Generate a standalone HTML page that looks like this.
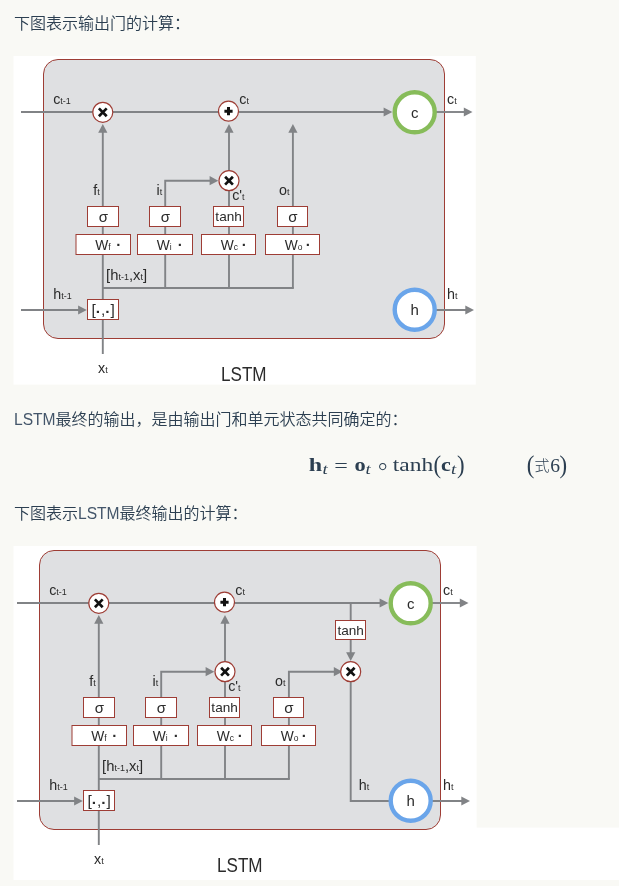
<!DOCTYPE html>
<html lang="zh-CN">
<head>
<meta charset="utf-8">
<title>LSTM</title>
<style>
html,body{margin:0;padding:0;}
body{width:619px;height:886px;overflow:hidden;background:#f9f9f5;position:relative;
  font-family:"Liberation Sans","Noto Sans CJK SC",sans-serif;color:#2c3f51;}
p{will-change:transform;position:absolute;left:13.8px;margin:0;font-size:16px;line-height:24px;white-space:nowrap;font-weight:350;}
p span{font-size:15.6px;color:#44566a;}
#p1{top:12px;}
#p2{top:408px;}
#p3{top:502px;}
svg{position:absolute;left:0;top:0;will-change:transform;}
svg text{font-family:"Liberation Sans",sans-serif;}
svg text.m{font-family:"Liberation Serif",serif;}
svg text.dj{font-family:"DejaVu Sans","Liberation Sans",sans-serif;}
svg text.cj{font-family:"Liberation Sans","Noto Sans CJK SC",sans-serif;font-weight:300;}

</style>
</head>
<body>
<svg width="619" height="886" viewBox="0 0 619 886">
<g id="d1">
<rect x="13.5" y="56" width="462.3" height="328.6" fill="#fff"/>
<rect x="43.5" y="59.5" width="401" height="279" rx="14.5" ry="14.5" fill="#dfe0e2" stroke="#9e3d35" stroke-width="1"/>
<line x1="21" y1="112" x2="386" y2="112" stroke="#818386" stroke-width="1.9"/>
<polygon points="392.3,112 383.6,107.4 383.6,116.6" fill="#818386"/>
<line x1="434" y1="112" x2="466" y2="112" stroke="#818386" stroke-width="1.9"/>
<polygon points="472.5,112 463.8,107.4 463.8,116.6" fill="#818386"/>
<line x1="434" y1="310" x2="467" y2="310" stroke="#818386" stroke-width="1.9"/>
<polygon points="474,310 465.3,305.4 465.3,314.6" fill="#818386"/>
<line x1="21" y1="310" x2="80" y2="310" stroke="#818386" stroke-width="1.9"/>
<polygon points="86.8,310 78.1,305.4 78.1,314.6" fill="#818386"/>
<line x1="102.8" y1="354" x2="102.8" y2="131" stroke="#818386" stroke-width="1.9"/>
<polygon points="102.8,124 98.2,132.7 107.4,132.7" fill="#818386"/>
<line x1="102.8" y1="288" x2="293.85" y2="288" stroke="#818386" stroke-width="1.9"/>
<polyline points="165.2,288 165.2,180.7 211,180.7" fill="none" stroke="#818386" stroke-width="1.9"/>
<polygon points="218.3,180.7 209.6,176.1 209.6,185.3" fill="#818386"/>
<line x1="229" y1="288" x2="229" y2="131" stroke="#818386" stroke-width="1.9"/>
<polygon points="229,124 224.4,132.7 233.6,132.7" fill="#818386"/>
<line x1="292.9" y1="288" x2="292.9" y2="131" stroke="#818386" stroke-width="1.9"/>
<polygon points="292.9,124 288.3,132.7 297.5,132.7" fill="#818386"/>
<rect x="87.5" y="206.5" width="31.0" height="20.0" fill="#fff" stroke="#9e3d35" stroke-width="1"/>
<text x="103.5" y="222.1" font-size="15" text-anchor="middle" fill="#2b2b2b" >σ</text>
<rect x="149.5" y="206.5" width="31.0" height="20.0" fill="#fff" stroke="#9e3d35" stroke-width="1"/>
<text x="165.5" y="222.1" font-size="15" text-anchor="middle" fill="#2b2b2b" >σ</text>
<rect x="213.5" y="206.5" width="30.0" height="20.0" fill="#fff" stroke="#9e3d35" stroke-width="1"/>
<text x="228.6" y="221.3" font-size="13.6" text-anchor="middle" fill="#2b2b2b" >tanh</text>
<rect x="277.5" y="206.5" width="30.0" height="20.0" fill="#fff" stroke="#9e3d35" stroke-width="1"/>
<text x="293.0" y="222.1" font-size="15" text-anchor="middle" fill="#2b2b2b" >σ</text>
<rect x="76" y="234.5" width="54.5" height="20.0" fill="#fff" stroke="#9e3d35" stroke-width="1"/>
<text x="95.2" y="249.8" font-size="13.8" text-anchor="start" fill="#2b2b2b" >W<tspan font-size="8.5">f</tspan></text>
<text x="118.7" y="250.1" font-size="15" text-anchor="middle" fill="#2b2b2b" font-weight="bold">·</text>
<rect x="137.5" y="234.5" width="55.0" height="20.0" fill="#fff" stroke="#9e3d35" stroke-width="1"/>
<text x="156.7" y="249.8" font-size="13.8" text-anchor="start" fill="#2b2b2b" >W<tspan font-size="8.5">i</tspan></text>
<text x="180.2" y="250.1" font-size="15" text-anchor="middle" fill="#2b2b2b" font-weight="bold">·</text>
<rect x="201.5" y="234.5" width="54.0" height="20.0" fill="#fff" stroke="#9e3d35" stroke-width="1"/>
<text x="220.7" y="249.8" font-size="13.8" text-anchor="start" fill="#2b2b2b" >W<tspan font-size="8.5">c</tspan></text>
<text x="244.2" y="250.1" font-size="15" text-anchor="middle" fill="#2b2b2b" font-weight="bold">·</text>
<rect x="265.5" y="234.5" width="54.0" height="20.0" fill="#fff" stroke="#9e3d35" stroke-width="1"/>
<text x="284.7" y="249.8" font-size="13.8" text-anchor="start" fill="#2b2b2b" >W<tspan font-size="8.5">o</tspan></text>
<text x="308.2" y="250.1" font-size="15" text-anchor="middle" fill="#2b2b2b" font-weight="bold">·</text>
<rect x="87.5" y="299.5" width="31.0" height="20.0" fill="#fff" stroke="#9e3d35" stroke-width="1"/>
<text x="103.1" y="314.8" font-size="15.5" text-anchor="middle" fill="#2b2b2b" >[<tspan font-weight="bold" dy="2.1">·</tspan><tspan dy="-2.1">,</tspan><tspan font-weight="bold" dy="2.1">·</tspan><tspan dy="-2.1">]</tspan></text>
<circle cx="102.8" cy="112.3" r="10" fill="#fff" stroke="#9e3d35" stroke-width="1.2"/><path d="M98.9,108.4 L106.7,116.2 M106.7,108.4 L98.9,116.2" stroke="#111" stroke-width="2.7" fill="none"/>
<circle cx="228.5" cy="111.2" r="10" fill="#fff" stroke="#9e3d35" stroke-width="1.2"/><path d="M224.4,111.2 L232.6,111.2 M228.5,107.1 L228.5,115.3" stroke="#111" stroke-width="3" fill="none"/>
<circle cx="229" cy="180.7" r="10" fill="#fff" stroke="#9e3d35" stroke-width="1.2"/><path d="M225.1,176.8 L232.9,184.6 M232.9,176.8 L225.1,184.6" stroke="#111" stroke-width="2.7" fill="none"/>
<circle cx="414.7" cy="112.3" r="20" fill="#fff" stroke="#87bc5a" stroke-width="4.4"/><text x="414.7" y="117.5" font-size="15" text-anchor="middle" fill="#2b2b2b" >c</text>
<circle cx="414.7" cy="309.7" r="20" fill="#fff" stroke="#6aa5ea" stroke-width="4.4"/><text x="414.7" y="314.9" font-size="15" text-anchor="middle" fill="#2b2b2b" >h</text>
<text x="53.2" y="103.6" font-size="14.3" text-anchor="start" fill="#2b2b2b" >c<tspan font-size="9">t-1</tspan></text>
<text x="239.3" y="103.6" font-size="14.3" text-anchor="start" fill="#2b2b2b" >c<tspan font-size="9">t</tspan></text>
<text x="447" y="103.8" font-size="14.3" text-anchor="start" fill="#2b2b2b" >c<tspan font-size="9">t</tspan></text>
<text x="447" y="298.8" font-size="14.3" text-anchor="start" fill="#2b2b2b" >h<tspan font-size="9">t</tspan></text>
<text x="53.2" y="298.5" font-size="14.3" text-anchor="start" fill="#2b2b2b" >h<tspan font-size="9">t-1</tspan></text>
<text x="93.2" y="194.8" font-size="14.3" text-anchor="start" fill="#2b2b2b" >f<tspan font-size="9">t</tspan></text>
<text x="156.5" y="194.8" font-size="14.3" text-anchor="start" fill="#2b2b2b" >i<tspan font-size="9">t</tspan></text>
<text x="279" y="194.8" font-size="14.3" text-anchor="start" fill="#2b2b2b" >o<tspan font-size="9">t</tspan></text>
<text x="232.2" y="199.5" font-size="14.3" text-anchor="start" fill="#2b2b2b" >c'<tspan font-size="9">t</tspan></text>
<text x="106.1" y="279.5" font-size="14.8" text-anchor="start" fill="#2b2b2b" >[h<tspan font-size="9">t-1</tspan>,x<tspan font-size="9">t</tspan>]</text>
<text x="98" y="372.8" font-size="14.3" text-anchor="start" fill="#2b2b2b" >x<tspan font-size="9">t</tspan></text>
<text x="221" y="381.2" font-size="20" text-anchor="start" fill="#2b2b2b" textLength="45.6" lengthAdjust="spacingAndGlyphs">LSTM</text>
</g>
<rect x="476" y="827.6" width="143" height="52.4" fill="#fff"/>
<g id="d2">
<rect x="13.5" y="546" width="463.1" height="334" fill="#fff"/>
<rect x="39.5" y="550.5" width="401" height="279" rx="14.5" ry="14.5" fill="#dfe0e2" stroke="#9e3d35" stroke-width="1"/>
<line x1="17" y1="603.0" x2="382" y2="603.0" stroke="#818386" stroke-width="1.9"/>
<polygon points="388.3,603.0 379.6,598.4 379.6,607.6" fill="#818386"/>
<line x1="430" y1="603.0" x2="462" y2="603.0" stroke="#818386" stroke-width="1.9"/>
<polygon points="468.5,603.0 459.8,598.4 459.8,607.6" fill="#818386"/>
<line x1="430" y1="801.0" x2="463" y2="801.0" stroke="#818386" stroke-width="1.9"/>
<polygon points="470,801.0 461.3,796.4 461.3,805.6" fill="#818386"/>
<line x1="17" y1="801.0" x2="76" y2="801.0" stroke="#818386" stroke-width="1.9"/>
<polygon points="82.8,801.0 74.1,796.4 74.1,805.6" fill="#818386"/>
<line x1="98.8" y1="845.0" x2="98.8" y2="622.0" stroke="#818386" stroke-width="1.9"/>
<polygon points="98.8,615.0 94.2,623.7 103.4,623.7" fill="#818386"/>
<line x1="98.8" y1="779.0" x2="289.85" y2="779.0" stroke="#818386" stroke-width="1.9"/>
<polyline points="161.2,779.0 161.2,671.7 207,671.7" fill="none" stroke="#818386" stroke-width="1.9"/>
<polygon points="214.3,671.7 205.6,667.1 205.6,676.3" fill="#818386"/>
<line x1="225" y1="779.0" x2="225" y2="622.0" stroke="#818386" stroke-width="1.9"/>
<polygon points="225,615.0 220.4,623.7 229.6,623.7" fill="#818386"/>
<polyline points="288.9,779.0 288.9,671.7 335,671.7" fill="none" stroke="#818386" stroke-width="1.9"/>
<polygon points="342.5,671.7 333.8,667.1 333.8,676.3" fill="#818386"/>
<line x1="350.7" y1="603.0" x2="350.7" y2="653.0" stroke="#818386" stroke-width="1.9"/>
<polygon points="350.7,661.0 346.1,652.3 355.3,652.3" fill="#818386"/>
<polyline points="350.7,671.7 350.7,801.0 391,801.0" fill="none" stroke="#818386" stroke-width="1.9"/>
<rect x="83.5" y="697.5" width="31.0" height="20.0" fill="#fff" stroke="#9e3d35" stroke-width="1"/>
<text x="99.5" y="713.1" font-size="15" text-anchor="middle" fill="#2b2b2b" >σ</text>
<rect x="145.5" y="697.5" width="31.0" height="20.0" fill="#fff" stroke="#9e3d35" stroke-width="1"/>
<text x="161.5" y="713.1" font-size="15" text-anchor="middle" fill="#2b2b2b" >σ</text>
<rect x="209.5" y="697.5" width="30.0" height="20.0" fill="#fff" stroke="#9e3d35" stroke-width="1"/>
<text x="224.6" y="712.3" font-size="13.6" text-anchor="middle" fill="#2b2b2b" >tanh</text>
<rect x="273.5" y="697.5" width="30.0" height="20.0" fill="#fff" stroke="#9e3d35" stroke-width="1"/>
<text x="289.0" y="713.1" font-size="15" text-anchor="middle" fill="#2b2b2b" >σ</text>
<rect x="72" y="725.5" width="54.5" height="20.0" fill="#fff" stroke="#9e3d35" stroke-width="1"/>
<text x="91.2" y="740.8" font-size="13.8" text-anchor="start" fill="#2b2b2b" >W<tspan font-size="8.5">f</tspan></text>
<text x="114.7" y="741.1" font-size="15" text-anchor="middle" fill="#2b2b2b" font-weight="bold">·</text>
<rect x="133.5" y="725.5" width="55.0" height="20.0" fill="#fff" stroke="#9e3d35" stroke-width="1"/>
<text x="152.7" y="740.8" font-size="13.8" text-anchor="start" fill="#2b2b2b" >W<tspan font-size="8.5">i</tspan></text>
<text x="176.2" y="741.1" font-size="15" text-anchor="middle" fill="#2b2b2b" font-weight="bold">·</text>
<rect x="197.5" y="725.5" width="54.0" height="20.0" fill="#fff" stroke="#9e3d35" stroke-width="1"/>
<text x="216.7" y="740.8" font-size="13.8" text-anchor="start" fill="#2b2b2b" >W<tspan font-size="8.5">c</tspan></text>
<text x="240.2" y="741.1" font-size="15" text-anchor="middle" fill="#2b2b2b" font-weight="bold">·</text>
<rect x="261.5" y="725.5" width="54.0" height="20.0" fill="#fff" stroke="#9e3d35" stroke-width="1"/>
<text x="280.7" y="740.8" font-size="13.8" text-anchor="start" fill="#2b2b2b" >W<tspan font-size="8.5">o</tspan></text>
<text x="304.2" y="741.1" font-size="15" text-anchor="middle" fill="#2b2b2b" font-weight="bold">·</text>
<rect x="83.5" y="790.5" width="31.0" height="20.0" fill="#fff" stroke="#9e3d35" stroke-width="1"/>
<text x="99.1" y="805.8" font-size="15.5" text-anchor="middle" fill="#2b2b2b" >[<tspan font-weight="bold" dy="2.1">·</tspan><tspan dy="-2.1">,</tspan><tspan font-weight="bold" dy="2.1">·</tspan><tspan dy="-2.1">]</tspan></text>
<circle cx="98.8" cy="603.3" r="10" fill="#fff" stroke="#9e3d35" stroke-width="1.2"/><path d="M94.9,599.4 L102.7,607.2 M102.7,599.4 L94.9,607.2" stroke="#111" stroke-width="2.7" fill="none"/>
<circle cx="224.5" cy="602.2" r="10" fill="#fff" stroke="#9e3d35" stroke-width="1.2"/><path d="M220.4,602.2 L228.6,602.2 M224.5,598.1 L224.5,606.3" stroke="#111" stroke-width="3" fill="none"/>
<circle cx="225" cy="671.7" r="10" fill="#fff" stroke="#9e3d35" stroke-width="1.2"/><path d="M221.1,667.8 L228.9,675.6 M228.9,667.8 L221.1,675.6" stroke="#111" stroke-width="2.7" fill="none"/>
<circle cx="350.7" cy="671.7" r="10" fill="#fff" stroke="#9e3d35" stroke-width="1.2"/><path d="M346.8,667.8 L354.6,675.6 M354.6,667.8 L346.8,675.6" stroke="#111" stroke-width="2.7" fill="none"/>
<rect x="335.5" y="620.5" width="30.0" height="19.0" fill="#fff" stroke="#9e3d35" stroke-width="1"/>
<text x="350.7" y="635.2" font-size="13.6" text-anchor="middle" fill="#2b2b2b" >tanh</text>
<text x="358.8" y="790.3" font-size="14.3" text-anchor="start" fill="#2b2b2b" >h<tspan font-size="9">t</tspan></text>
<circle cx="410.7" cy="603.3" r="20" fill="#fff" stroke="#87bc5a" stroke-width="4.4"/><text x="410.7" y="608.5" font-size="15" text-anchor="middle" fill="#2b2b2b" >c</text>
<circle cx="410.7" cy="800.7" r="20" fill="#fff" stroke="#6aa5ea" stroke-width="4.4"/><text x="410.7" y="805.9" font-size="15" text-anchor="middle" fill="#2b2b2b" >h</text>
<text x="49.2" y="594.6" font-size="14.3" text-anchor="start" fill="#2b2b2b" >c<tspan font-size="9">t-1</tspan></text>
<text x="235.3" y="594.6" font-size="14.3" text-anchor="start" fill="#2b2b2b" >c<tspan font-size="9">t</tspan></text>
<text x="443" y="594.8" font-size="14.3" text-anchor="start" fill="#2b2b2b" >c<tspan font-size="9">t</tspan></text>
<text x="443" y="789.8" font-size="14.3" text-anchor="start" fill="#2b2b2b" >h<tspan font-size="9">t</tspan></text>
<text x="49.2" y="789.5" font-size="14.3" text-anchor="start" fill="#2b2b2b" >h<tspan font-size="9">t-1</tspan></text>
<text x="89.2" y="685.8" font-size="14.3" text-anchor="start" fill="#2b2b2b" >f<tspan font-size="9">t</tspan></text>
<text x="152.5" y="685.8" font-size="14.3" text-anchor="start" fill="#2b2b2b" >i<tspan font-size="9">t</tspan></text>
<text x="275" y="685.8" font-size="14.3" text-anchor="start" fill="#2b2b2b" >o<tspan font-size="9">t</tspan></text>
<text x="228.2" y="690.5" font-size="14.3" text-anchor="start" fill="#2b2b2b" >c'<tspan font-size="9">t</tspan></text>
<text x="102.1" y="770.5" font-size="14.8" text-anchor="start" fill="#2b2b2b" >[h<tspan font-size="9">t-1</tspan>,x<tspan font-size="9">t</tspan>]</text>
<text x="94" y="863.8" font-size="14.3" text-anchor="start" fill="#2b2b2b" >x<tspan font-size="9">t</tspan></text>
<text x="217" y="872.2" font-size="20" text-anchor="start" fill="#2b2b2b" textLength="45.6" lengthAdjust="spacingAndGlyphs">LSTM</text>
</g>
<g id="formula">
<text x="308.7" y="471.0" font-size="19.4" fill="#2c3f51" class="m" font-weight="bold" textLength="13.4" lengthAdjust="spacingAndGlyphs">h</text>
<text x="322.6" y="473.9" font-size="13.7" fill="#2c3f51" class="m" font-style="italic" textLength="5.2" lengthAdjust="spacingAndGlyphs">t</text>
<text x="334.2" y="472.0" font-size="19.4" fill="#2c3f51" class="m"  textLength="13.6" lengthAdjust="spacingAndGlyphs">=</text>
<text x="354.5" y="471.0" font-size="19.4" fill="#2c3f51" class="m" font-weight="bold" textLength="11.2" lengthAdjust="spacingAndGlyphs">o</text>
<text x="365.5" y="473.9" font-size="13.7" fill="#2c3f51" class="m" font-style="italic" textLength="5.2" lengthAdjust="spacingAndGlyphs">t</text>
<text x="382.8" y="474.5" font-size="27" font-weight="200" fill="#2c3f51" class="dj" text-anchor="middle">∘</text>
<text x="392.8" y="471.0" font-size="19.4" fill="#2c3f51" class="m"  textLength="40.4" lengthAdjust="spacingAndGlyphs">tanh</text>
<text x="433.4" y="472.6" font-size="25" fill="#2c3f51" class="m"  textLength="7.6" lengthAdjust="spacingAndGlyphs">(</text>
<text x="440.9" y="471.0" font-size="19.4" fill="#2c3f51" class="m" font-weight="bold" textLength="9.8" lengthAdjust="spacingAndGlyphs">c</text>
<text x="451.0" y="473.9" font-size="13.7" fill="#2c3f51" class="m" font-style="italic" textLength="5.2" lengthAdjust="spacingAndGlyphs">t</text>
<text x="457.0" y="472.6" font-size="25" fill="#2c3f51" class="m"  textLength="7.6" lengthAdjust="spacingAndGlyphs">)</text>
<text x="526.8" y="472.6" font-size="25" fill="#2c3f51" class="m"  textLength="7.6" lengthAdjust="spacingAndGlyphs">(</text>
<text x="534.4" y="471.3" font-size="15" fill="#2c3f51" class="cj">式</text>
<text x="550.2" y="471.7" font-size="19.4" fill="#2c3f51" class="m"  textLength="9.8" lengthAdjust="spacingAndGlyphs">6</text>
<text x="559.6" y="472.6" font-size="25" fill="#2c3f51" class="m"  textLength="7.6" lengthAdjust="spacingAndGlyphs">)</text>
</g>
</svg>
<p id="p1">下图表示输出门的计算：</p>
<p id="p2"><span>LSTM</span>最终的输出，是由输出门和单元状态共同确定的：</p>
<p id="p3">下图表示<span>LSTM</span>最终输出的计算：</p>
</body>
</html>
